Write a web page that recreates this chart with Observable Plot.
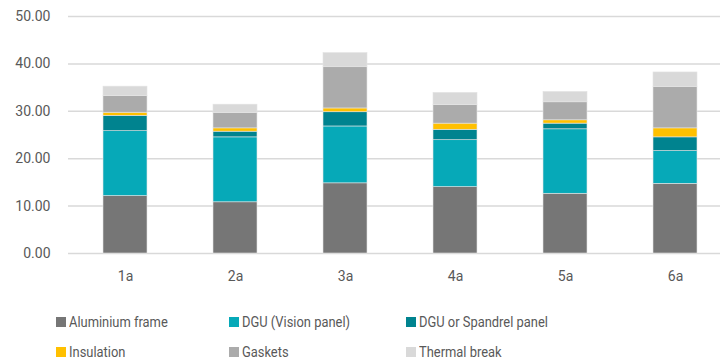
<!DOCTYPE html>
<html>
<head>
<meta charset="utf-8">
<script src="https://cdn.jsdelivr.net/npm/d3@7"></script>
<script src="https://cdn.jsdelivr.net/npm/@observablehq/plot@0.6"></script>
<style>
  body { margin: 0; background: #fff; font-family: Roboto, "Noto Sans", sans-serif; }
  #legend { display: grid; grid-template-columns: 173px 177px auto; grid-auto-rows: 30px; padding: 12px 0 0 56px; color: #595959; font-size: 15px; }
  .item { display: flex; align-items: center; white-space: nowrap; }
  .sw { width: 10px; height: 10px; margin-right: 3px; flex: none; }
  .lbl { display: inline-block; transform: scaleX(0.86); transform-origin: left center; }
</style>
</head>
<body>
<div id="chart"></div>
<div id="legend"></div>
<script>
const categories = ["1a", "2a", "3a", "4a", "5a", "6a"];
const series = ["Aluminium frame", "DGU (Vision panel)", "DGU or Spandrel panel", "Insulation", "Gaskets", "Thermal break"];
const colors = ["#767676", "#06A9B8", "#00838F", "#FFC000", "#ABABAB", "#D9D9D9"];
const aluminium = [12.1, 10.8, 14.8, 14.0, 12.6, 14.7];
const vision    = [13.7, 13.7, 12.0,  9.9, 13.6,  6.9];
const spandrel  = [ 3.25, 1.2,  3.0,  2.2,  1.2,  2.9];
const insulation= [ 0.65, 0.7,  0.8,  1.3,  0.7,  1.9];
const gaskets   = [ 3.5,  3.2,  8.7,  3.9,  3.8,  8.7];
const thermal   = [ 2.0,  1.8,  3.0,  2.6,  2.2,  3.1];
const yTicks = [0, 10, 20, 30, 40, 50];

const valuesBySeries = [aluminium, vision, spandrel, insulation, gaskets, thermal];
const data = [];
series.forEach((s, i) => categories.forEach((c, j) => data.push({cat: c, series: s, value: valuesBySeries[i][j]})));

const chart = Plot.plot({
  width: 720,
  height: 295,
  marginLeft: 68,
  marginRight: 0,
  marginTop: 16,
  marginBottom: 42,
  style: { fontFamily: "Roboto, 'Noto Sans', sans-serif", fontSize: "14px", color: "#595959", background: "#fff" },
  x: { domain: categories, range: [68.5, 731.5], paddingInner: 0.6, paddingOuter: 0.3, label: null, tickSize: 0, tickPadding: 18 },
  y: { domain: [0, 50], ticks: yTicks, tickFormat: d3.format(".2f"), label: null, tickSize: 0, tickPadding: 18 },
  color: { domain: series, range: colors },
  marks: [
    Plot.ruleY(yTicks, { stroke: "#d9d9d9", strokeWidth: 1.5 }),
    Plot.barY(data, Plot.stackY({ order: series }, { x: "cat", y: "value", fill: "series", stroke: "#e4e4e4", strokeWidth: 0.6 })),
    Plot.axisY({ ticks: yTicks, tickFormat: d3.format(".2f"), tickSize: 0, tickPadding: 18, label: null, fill: "#595959" }),
    Plot.axisX({ tickSize: 0, tickPadding: 18, label: null, fill: "#595959" })
  ]
});
document.getElementById("chart").appendChild(chart);

const legend = document.getElementById("legend");
series.forEach((s, i) => {
  const item = document.createElement("div");
  item.className = "item";
  const sw = document.createElement("span");
  sw.className = "sw";
  sw.style.background = colors[i];
  const lbl = document.createElement("span");
  lbl.className = "lbl";
  lbl.textContent = s;
  item.appendChild(sw);
  item.appendChild(lbl);
  legend.appendChild(item);
});
</script>
</body>
</html>
